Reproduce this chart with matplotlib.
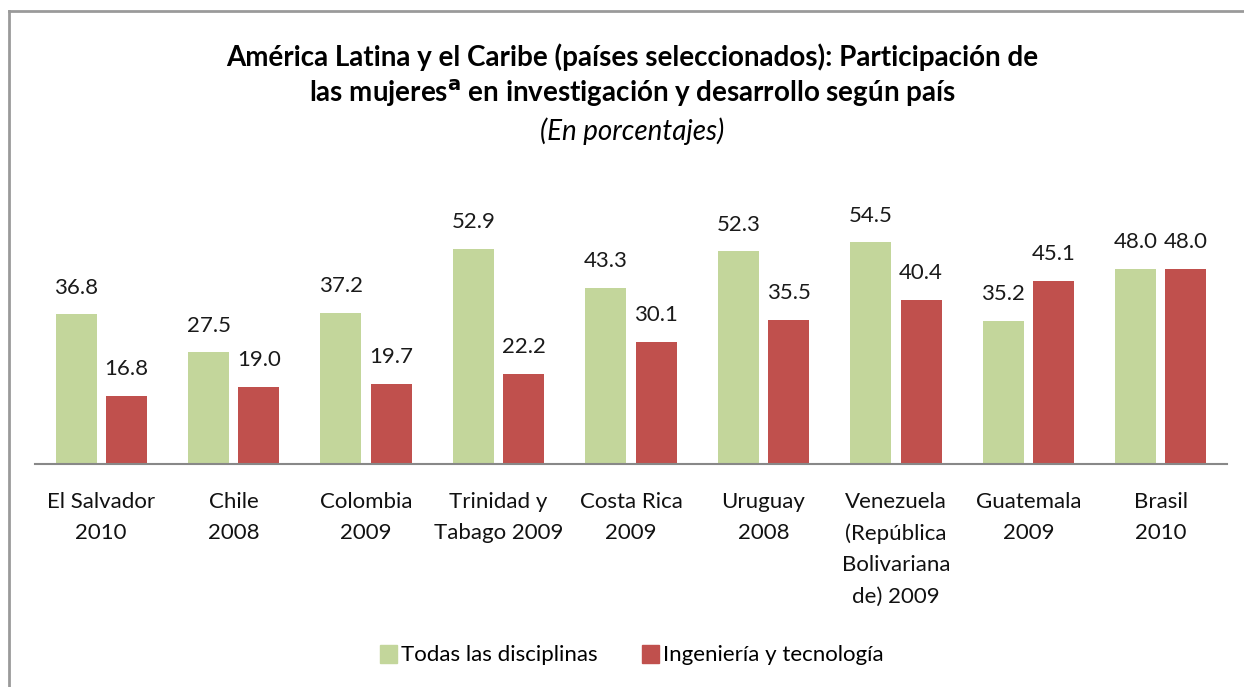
import matplotlib
matplotlib.use('Agg')
import matplotlib.pyplot as plt
from matplotlib.lines import Line2D
from matplotlib.patches import Patch
import numpy as np

plt.rcParams['font.family'] = ['Lato', 'DejaVu Sans']

paises = ['El Salvador\n2010', 'Chile\n2008', 'Colombia\n2009', 'Trinidad y\nTabago 2009',
          'Costa Rica\n2009', 'Uruguay\n2008', 'Venezuela\n(República\nBolivariana\nde) 2009',
          'Guatemala\n2009', 'Brasil\n2010']
todas = [36.8, 27.5, 37.2, 52.9, 43.3, 52.3, 54.5, 35.2, 48.0]
ingenieria = [16.8, 19.0, 19.7, 22.2, 30.1, 35.5, 40.4, 45.1, 48.0]

verde = '#C3D69B'
rojo = '#C0504D'

W, H = 1244, 687
fig = plt.figure(figsize=(W / 100, H / 100), dpi=100)
ax = fig.add_axes([35 / W, 1 - 464 / H, (1227 - 35) / W, (464 - 220) / H])

x = np.arange(len(paises))
ancho = 0.31
off = 0.19
b1 = ax.bar(x - off, todas, ancho, color=verde, label='Todas las disciplinas')
b2 = ax.bar(x + off, ingenieria, ancho, color=rojo, label='Ingeniería y tecnología')

for barras, vals in [(b1, todas), (b2, ingenieria)]:
    for b, v in zip(barras, vals):
        ax.annotate('%.1f' % v, (b.get_x() + b.get_width() / 2, v),
                    xytext=(0, 12), textcoords='offset points',
                    ha='center', va='bottom', fontsize=16, color='#1a1a1a',
                    annotation_clip=False)

ax.set_xlim(-0.5, len(paises) - 0.5)
ax.set_ylim(0, 60)
ax.set_yticks([])
ax.set_xticks(x)
ax.set_xticklabels(paises, fontsize=16, linespacing=1.7, color='#111111')
ax.tick_params(axis='x', length=0, pad=20)
for s in ['top', 'right', 'left']:
    ax.spines[s].set_visible(False)
ax.spines['bottom'].set_color('#888888')
ax.spines['bottom'].set_linewidth(1.5)

fig.text(632 / W, 1 - 57 / H, 'América Latina y el Caribe (países seleccionados): Participación de',
         ha='center', va='center', fontsize=20, fontweight='bold')
fig.text(632 / W, 1 - 93 / H, 'las mujeres$^{\\mathbf{a}}$ en investigación y desarrollo según país',
         ha='center', va='center', fontsize=20, fontweight='bold')
fig.text(632 / W, 1 - 131 / H, '(En porcentajes)', ha='center', va='center',
         fontsize=20, fontstyle='italic')

handles = [Patch(color=verde), Patch(color=rojo)]
fig.legend(handles, ['Todas las disciplinas', 'Ingeniería y tecnología'],
           loc='center', bbox_to_anchor=(632 / W, 1 - 655 / H), ncol=2, frameon=False,
           fontsize=16, handlelength=0.75, handleheight=0.9, handletextpad=0.2,
           columnspacing=2.0)

fig.add_artist(Line2D([9 / W, 9 / W], [0, 1 - 11 / H], color='#9a9a9a', lw=2))
fig.add_artist(Line2D([9 / W, 1], [1 - 11 / H, 1 - 11 / H], color='#9a9a9a', lw=2))

fig.savefig('out.png', dpi=100)
